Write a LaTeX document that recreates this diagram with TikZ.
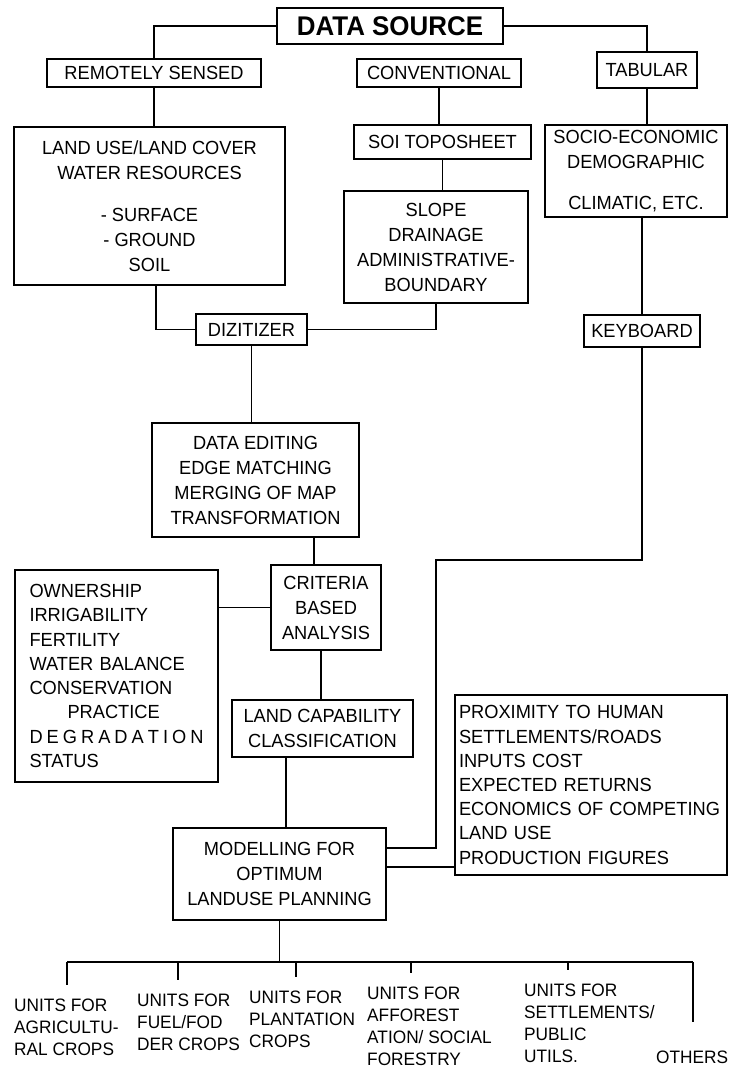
\documentclass[tikz,border=0pt]{standalone}
\usepackage{fontspec}
\setmainfont[FakeStretch=0.96]{Liberation Sans}
\begin{document}
\begin{tikzpicture}[x=1pt,y=-1pt,
  bx/.style={draw, line width=1.5pt, inner sep=0pt, align=center, font=\fontsize{19}{25}\selectfont},
  ln/.style={line width=1.4pt},
  ut/.style={inner sep=0pt, align=left, anchor=north west, font=\fontsize{18}{22}\selectfont}]
\useasboundingbox[fill=white] (0,0) rectangle (729,1068);

% top level
\node[bx, font=\bfseries\fontsize{27}{30}\selectfont, minimum width=226pt, minimum height=36pt] (ds) at (390,26) {DATA SOURCE};
\node[bx, minimum width=214pt, minimum height=28pt] (rs) at (154,73) {REMOTELY SENSED};
\node[bx, minimum width=164pt, minimum height=28pt] (conv) at (439,73) {CONVENTIONAL};
\node[bx, minimum width=100pt, minimum height=36pt] (tab) at (647,70) {TABULAR};

% second level
\node[bx, minimum width=271pt, minimum height=158pt] (lu) at (149.5,206) {LAND USE/LAND COVER\\WATER RESOURCES\\[17pt]- SURFACE\\- GROUND\\SOIL};
\node[bx, minimum width=177pt, minimum height=34pt] (soi) at (442.5,142) {SOI TOPOSHEET};
\node[bx, minimum width=184pt, minimum height=112pt] (slope) at (436,247) {SLOPE\\DRAINAGE\\ADMINISTRATIVE-\\BOUNDARY};
\node[bx, minimum width=182pt, minimum height=92pt] (socio) at (636,171) {SOCIO-ECONOMIC\\DEMOGRAPHIC\\[16pt]CLIMATIC, ETC.};

\node[bx, minimum width=111pt, minimum height=31pt] (diz) at (251.5,329.5) {DIZITIZER};
\node[bx, minimum width=116pt, minimum height=32pt] (kb) at (642,331) {KEYBOARD};

\node[bx, minimum width=207pt, minimum height=114pt] (de) at (255.5,480) {DATA EDITING\\EDGE MATCHING\\MERGING OF MAP\\TRANSFORMATION};
\node[bx, minimum width=110pt, minimum height=85pt] (crit) at (326,607.5) {CRITERIA\\BASED\\ANALYSIS};
\node[bx, align=left, text width=174pt, inner xsep=14.5pt, minimum height=212pt, font=\fontsize{19}{24.3}\selectfont] (own) at (116.5,676)
  {OWNERSHIP\\IRRIGABILITY\\FERTILITY\\WATER BALANCE\\CONSERVATION\\\hspace*{38pt}PRACTICE\\\makebox[174pt][s]{D\hfil E\hfil G\hfil R\hfil A\hfil D\hfil A\hfil T\hfil I\hfil O\hfil N}\\STATUS};
\node[bx, minimum width=181pt, minimum height=57pt] (lc) at (322.5,728.5) {LAND CAPABILITY\\CLASSIFICATION};
\node[bx, align=left, text width=264pt, inner xsep=4pt, minimum height=180pt, font=\fontsize{19}{24.2}\selectfont] (prox) at (591,785)
  {PROXIMITY TO HUMAN\\SETTLEMENTS/ROADS\\INPUTS COST\\EXPECTED RETURNS\\ECONOMICS OF COMPETING\\LAND USE\\PRODUCTION FIGURES};
\node[bx, minimum width=213pt, minimum height=92pt] (mod) at (279.5,874) {MODELLING FOR\\OPTIMUM\\LANDUSE PLANNING};

% output units
\node[ut] (u1) at (14,999) {UNITS FOR\\AGRICULTU-\\RAL CROPS};
\node[ut] (u2) at (137,994) {UNITS FOR\\FUEL/FOD\\DER CROPS};
\node[ut] (u3) at (249,991) {UNITS FOR\\PLANTATION\\CROPS};
\node[ut] (u4) at (367,987) {UNITS FOR\\AFFOREST\\ATION/ SOCIAL\\FORESTRY};
\node[ut] (u5) at (524,984) {UNITS FOR\\SETTLEMENTS/\\PUBLIC\\UTILS.};
\node[ut] (u6) at (656,1051) {OTHERS};

% connectors
\draw[ln] (ds.west) -| (rs.north);
\draw[ln] (ds.east) -| (tab.north);
\draw[ln] (rs.south) -- (rs.south |- lu.north);
\draw[ln] (conv.south) -- (conv.south |- soi.north);
\draw[ln] (tab.south) -- (tab.south |- socio.north);
\draw[ln] (soi.south) -- (soi.south |- slope.north);
\path ([xshift=6.5pt]lu.south) coordinate (luS);
\draw[ln] (luS) |- (diz.west);
\draw[ln] (slope.south) |- (diz.east);
\draw[ln] (socio.south -| kb.north) -- (kb.north);
\draw[ln] (diz.south) -- (diz.south |- de.north);
\path ([xshift=58.5pt]de.south) coordinate (deS);
\draw[ln] (deS) -- (deS |- crit.north);
\draw[ln] (crit.west) -- (crit.west -| own.east);
\path ([xshift=-5pt]crit.south) coordinate (crS);
\draw[ln] (crS) -- (crS |- lc.north);
\path ([xshift=-36.5pt]lc.south) coordinate (lcS);
\draw[ln] (lcS) -- (lcS |- mod.north);
\coordinate (kturn) at (436,560);
\draw[ln] (kb.south) |- (kturn) |- ([yshift=26pt]mod.east);
\path ([yshift=7pt]mod.east) coordinate (mE);
\draw[ln] (mE) -- (mE -| prox.west);

% bus
\coordinate (busL) at (67,962);
\coordinate (busR) at (693,962);
\draw[ln] (busL) -- (busR);
\draw[ln] (mod.south) -- (mod.south |- busL);
\coordinate (d2) at (178,962);
\coordinate (d3) at (296,962);
\coordinate (d4) at (411,962);
\coordinate (d5) at (568,962);
\draw[ln, shorten >=14pt] (busL) -- (busL |- u1.north);
\draw[ln, shorten >=14pt] (d2) -- (d2 |- u2.north);
\draw[ln, shorten >=14pt] (d3) -- (d3 |- u3.north);
\draw[ln, shorten >=14pt] (d4) -- (d4 |- u4.north);
\draw[ln, shorten >=14pt] (d5) -- (d5 |- u5.north);
\draw[ln, shorten >=29pt] (busR) -- (busR |- u6.north);
\end{tikzpicture}
\end{document}
